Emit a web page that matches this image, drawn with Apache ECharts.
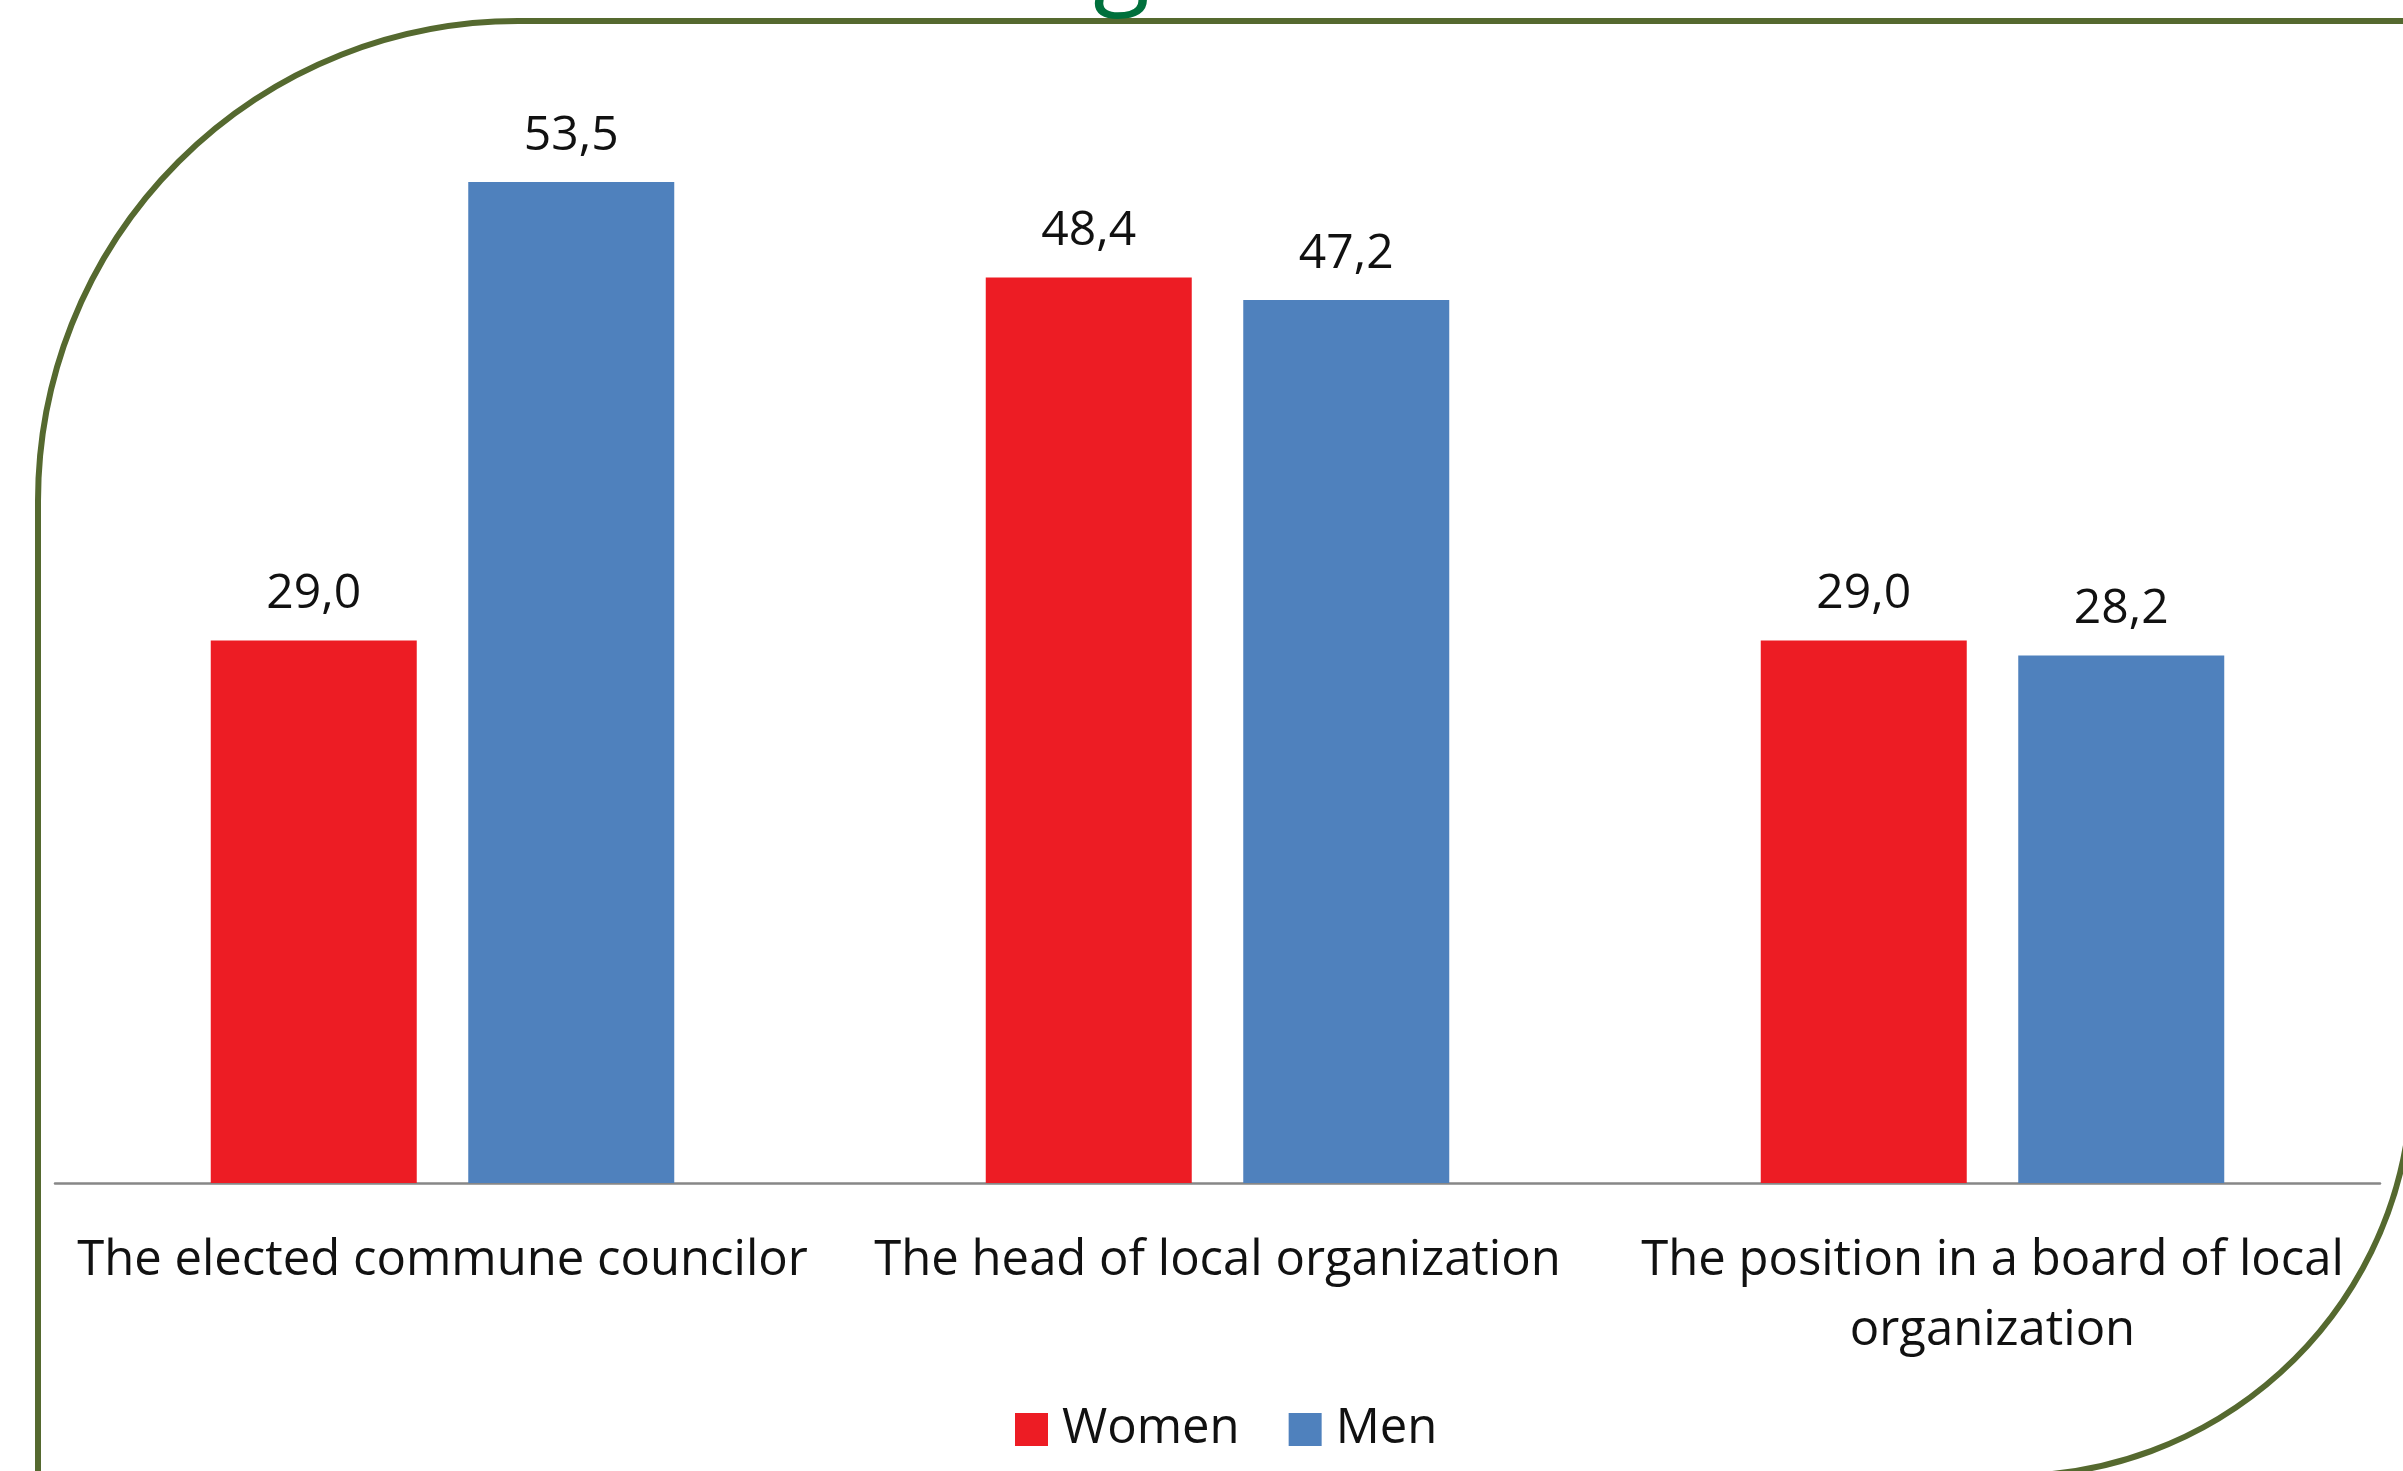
<!DOCTYPE html>
<html>
<head>
<meta charset="utf-8">
<style>
  html, body { margin: 0; padding: 0; background: #ffffff; }
  #chart { width: 2403px; height: 1471px; }
</style>
<script src="https://cdn.jsdelivr.net/npm/echarts@6/dist/echarts.min.js"></script>
</head>
<body>
<div id="chart"></div>
<script>
const categories = [
  'The elected commune councilor',
  'The head of local organization',
  'The position in a board of local\norganization'
];
const seriesNames = ['Women', 'Men'];
const women = [29.0, 48.4, 29.0];
const men = [53.5, 47.2, 28.2];
const titleText = 'Getting to Other Public Sections';

const FONT = '"Open Sans", "Noto Sans", sans-serif';
const fmt = p => p.value.toFixed(1).replace('.', ',');

const chart = echarts.init(document.getElementById('chart'), null, { renderer: 'canvas' });

const labelStyle = {
  show: true,
  position: 'top',
  distance: 21,
  formatter: fmt,
  color: '#111111',
  fontFamily: FONT,
  fontSize: 48,
  lineHeight: 50
};

const borderStyle = { fill: 'none', stroke: '#55692f', lineWidth: 6 };

chart.setOption({
  backgroundColor: '#ffffff',
  animation: false,
  graphic: [
    { type: 'line', silent: true, shape: { x1: 38, y1: 501, x2: 38, y2: 1480 }, style: borderStyle },
    { type: 'arc', silent: true, shape: { cx: 518, cy: 501, r: 480, startAngle: Math.PI, endAngle: 1.5 * Math.PI, clockwise: true }, style: borderStyle },
    { type: 'line', silent: true, shape: { x1: 518, y1: 21, x2: 2410, y2: 21 }, style: borderStyle },
    { type: 'arc', silent: true, shape: { cx: 2012, cy: 1076, r: 400, startAngle: 0.1, endAngle: 0.5 * Math.PI, clockwise: true }, style: borderStyle },
    {
      type: 'text',
      silent: true,
      x: 795,
      y: -36,
      style: {
        text: titleText,
        fill: '#00703c',
        font: '104px "Open Sans", sans-serif',
        verticalAlign: 'middle',
        align: 'left'
      }
    }
  ],
  legend: {
    data: seriesNames,
    left: 1015,
    top: 1405,
    padding: 0,
    icon: 'rect',
    itemWidth: 33,
    itemHeight: 33,
    itemGap: 49,
    textStyle: {
      color: '#111111',
      fontFamily: FONT,
      fontSize: 49,
      lineHeight: 33,
      padding: [0, 0, 0, 9]
    }
  },
  grid: {
    left: 55,
    right: 23,
    top: 60.5,
    bottom: 288,
    containLabel: false
  },
  xAxis: {
    type: 'category',
    data: categories,
    axisTick: { show: false },
    axisLine: { show: true, lineStyle: { color: '#878787', width: 2.5 } },
    axisLabel: {
      color: '#111111',
      fontFamily: FONT,
      fontSize: 49,
      lineHeight: 70,
      margin: 43,
      interval: 0,
      align: 'center'
    }
  },
  yAxis: {
    type: 'value',
    min: 0,
    max: 60,
    show: false,
    splitLine: { show: false }
  },
  series: [
    {
      name: seriesNames[0],
      type: 'bar',
      data: women,
      barWidth: 206,
      barGap: '25%',
      itemStyle: { color: '#ed1c24' },
      label: labelStyle
    },
    {
      name: seriesNames[1],
      type: 'bar',
      data: men,
      barWidth: 206,
      barGap: '25%',
      itemStyle: { color: '#4f81bd' },
      label: labelStyle
    }
  ]
});
</script>
</body>
</html>
